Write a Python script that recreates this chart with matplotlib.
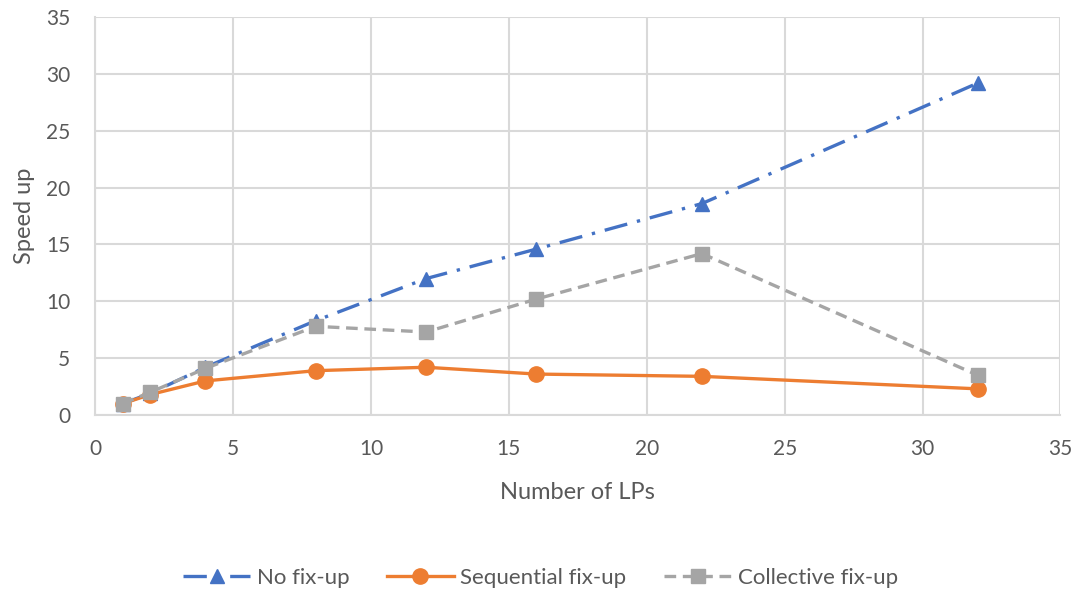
import matplotlib.pyplot as plt

plt.rcParams['font.family'] = ['Lato', 'DejaVu Sans']

lps = [1, 2, 4, 8, 12, 16, 22, 32]
no_fixup = [1.0, 1.9, 4.2, 8.3, 12.0, 14.6, 18.6, 29.2]
sequential = [1.0, 1.8, 3.0, 3.9, 4.2, 3.6, 3.4, 2.3]
collective = [1.0, 2.0, 4.1, 7.8, 7.3, 10.2, 14.2, 3.5]

fig = plt.figure(figsize=(10.81, 5.92), dpi=100)
ax = fig.add_axes([0.088, 0.299, 0.893, 0.672])

ax.plot(lps, no_fixup, color='#4472C4', lw=2.4, dashes=(7, 3, 1, 3),
        marker='^', markersize=10, label='No fix-up', zorder=3)
ax.plot(lps, sequential, color='#ED7D31', lw=2.4, marker='o',
        markersize=11, label='Sequential fix-up', zorder=4)
ax.plot(lps, collective, color='#A5A5A5', lw=2.4, dashes=(3.5, 2),
        marker='s', markersize=10, label='Collective fix-up', zorder=5)

ax.set_xlim(0, 35)
ax.set_ylim(0, 35)
ax.set_xticks(range(0, 36, 5))
ax.set_yticks(range(0, 36, 5))
ax.grid(True, color='#D9D9D9', lw=1.5)
ax.set_axisbelow(True)
for side in ['top', 'right']:
    ax.spines[side].set_visible(False)
for side in ['left', 'bottom']:
    ax.spines[side].set_color('#D9D9D9')
    ax.spines[side].set_linewidth(1.5)
ax.tick_params(length=0, labelsize=15, labelcolor='#595959')
ax.tick_params(axis='x', pad=17)
ax.tick_params(axis='y', pad=18)

ax.set_xlabel('Number of LPs', fontsize=17, color='#595959', labelpad=17)
ax.set_ylabel('Speed up', fontsize=17, color='#595959', labelpad=8)

fig.legend(loc='center', bbox_to_anchor=(0.5, 0.024), ncol=3, frameon=False,
           fontsize=16, labelcolor='#595959', handlelength=3.0,
           columnspacing=1.7, handletextpad=0.3)

fig.savefig('out.png', dpi=100)
